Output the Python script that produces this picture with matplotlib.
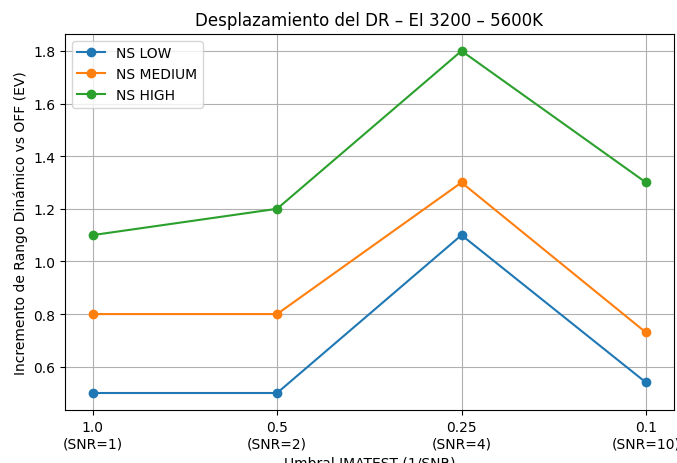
import matplotlib
matplotlib.use("Agg")
from matplotlib import pyplot as plt

thresholds = ["1.0\n(SNR=1)", "0.5\n(SNR=2)", "0.25\n(SNR=4)", "0.1\n(SNR=10)"]
ns_low = [0.5, 0.5, 1.1, 0.54]
ns_medium = [0.8, 0.8, 1.3, 0.73]
ns_high = [1.1, 1.2, 1.8, 1.3]

fig = plt.figure(figsize=(6.77, 4.64), dpi=100)
ax = fig.add_axes([0.096, 0.114, 0.899, 0.811])

x = range(len(thresholds))
ax.plot(x, ns_low, marker='o', label='NS LOW')
ax.plot(x, ns_medium, marker='o', label='NS MEDIUM')
ax.plot(x, ns_high, marker='o', label='NS HIGH')

ax.set_xticks(list(x))
ax.set_xticklabels(thresholds)
ax.set_title('Desplazamiento del DR – EI 3200 – 5600K')
ax.set_xlabel('Umbral IMATEST (1/SNR)')
ax.set_ylabel('Incremento de Rango Dinámico vs OFF (EV)')
ax.grid(True)
ax.legend(loc='upper left')

fig.savefig("out.png", dpi=100)
